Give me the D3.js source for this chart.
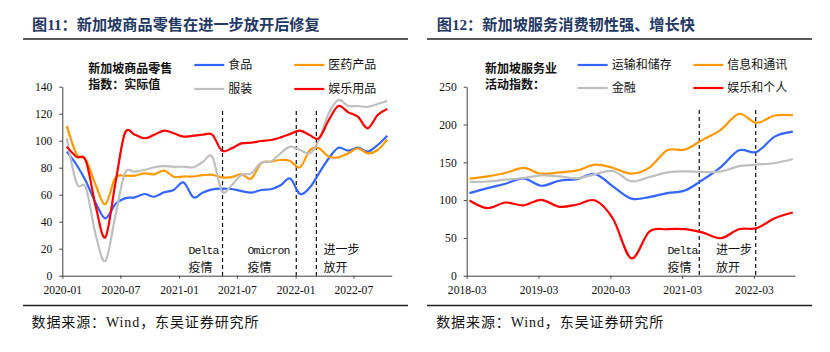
<!DOCTYPE html>
<html><head><meta charset="utf-8">
<script src="https://cdn.jsdelivr.net/npm/d3@7"></script>
<style>body{margin:0;background:#fff} svg{display:block}</style>
</head><body>
<svg id="c" width="830" height="352"></svg>
<script>
// ---------- Left chart data (monthly) ----------
const leftMonths = ["2020-01","2020-02","2020-03","2020-04","2020-05","2020-06","2020-07","2020-08","2020-09","2020-10","2020-11","2020-12",
  "2021-01","2021-02","2021-03","2021-04","2021-05","2021-06","2021-07","2021-08","2021-09","2021-10","2021-11","2021-12",
  "2022-01","2022-02","2022-03","2022-04","2022-05","2022-06","2022-07","2022-08","2022-09","2022-10"];
const leftFood = [91.9,82,70,53.6,42.5,53,57.3,58,60.5,58.5,61.8,63.5,69,58,61.5,64,64.5,64.2,62.7,61.5,63.5,64,67,72,60.5,65.5,75.8,87,94.8,92.6,94.8,91.9,96.8,103.7];
const leftMedical = [111,90,85.7,67,53,72.5,74,74.1,75.8,75.1,77.8,73.3,73.5,73.5,74.5,74.8,72.9,73,75,72,83.3,84.5,85.7,85,80.3,93.1,94.4,88.2,87.7,90.7,94.4,90.7,93.1,101];
const leftApparel = [102,68.4,65,30,11,44,75.8,77,78.3,80.3,81.2,80.7,80.7,80.3,84,88,62.5,67.2,74.6,75.8,83.7,84.5,90.7,95.6,93.1,90.7,100.5,120.3,130.1,125.7,125.7,125,127.2,129.4];
const leftRecreation = [95.6,88,85,51,28.5,68,105.5,104.4,101.8,104.4,107.4,105.5,103,103.7,104.4,104.4,92.6,94.4,98,98.5,99.8,100.5,102.5,105,107.5,104,101.8,115.3,125.7,121,117.8,109.2,119,123.5];
const leftSeriesNames = ["食品","医药产品","服装","娱乐用品"];
const leftXTickLabels = ["2020-01","2020-07","2021-01","2021-07","2022-01","2022-07"];
const leftYTicks = [0,20,40,60,80,100,120,140];
const leftEventDates = ["2021-05-17","2022-01-03","2022-03-07"];
const leftEventLabels = [["Delta","疫情"],["Omicron","疫情"],["进一步","放开"]];

// ---------- Right chart data (quarterly) ----------
const rightQuarters = ["2018-03","2018-06","2018-09","2018-12","2019-03","2019-06","2019-09","2019-12","2020-03","2020-06",
  "2020-09","2020-12","2021-03","2021-06","2021-09","2021-12","2022-03","2022-06","2022-09"];
const rightTransport = [109.3,115.9,121.7,128.8,119,125.6,127.8,134.4,117.9,102,104,109.3,112.8,127,144,165.8,163.7,184,190.6];
const rightInfoComm = [128.3,131.4,135.8,142.5,134.9,136.6,139.3,146.9,142.5,134.9,143,165.9,166.8,180,193.3,214.1,202.2,211.9,212.3];
const rightFinance = [124,124.6,127,129.2,132.7,131.4,128.8,134.4,138.5,125,130.5,136.6,138,137.2,138,144.9,146.9,149.1,154.4];
const rightRecreation = [99.5,89.4,96.8,93,100.4,91.1,94.2,99.5,75,23,58.4,61.5,61.5,57,49.6,61.5,62.9,76,83.6];
const rightSeriesNames = ["运输和储存","信息和通讯","金融","娱乐和个人"];
const rightXTickLabels = ["2018-03","2019-03","2020-03","2021-03","2022-03"];
const rightYTicks = [0,50,100,150,200,250];
const rightEventDates = ["2021-05-27","2022-03-10"];
const rightEventLabels = [["Delta","疫情"],["进一步","放开"]];

const seriesColors = ["#3366ff","#ff9900","#bfbfbf","#ff0000"];

const svg = d3.select("#c");
const parseM = d3.timeParse("%Y-%m");
const parseD = d3.timeParse("%Y-%m-%d");
const mid = s => d3.timeDay.offset(parseM(s), 14);
const FONT_MIX = "'Liberation Serif','Noto Sans CJK SC',serif";
const FONT_CJK = "'Noto Sans CJK SC',sans-serif";

function drawPanel(o) {
  const g = svg.append("g");
  // title
  g.append("text").attr("x", o.titleX).attr("y", 29.5)
    .attr("font-family", FONT_MIX).attr("font-weight", "bold").attr("font-size", 15.2)
    .attr("fill", "#1f3864").text(o.title);
  g.append("line").attr("x1", o.ruleX1).attr("x2", o.ruleX2).attr("y1", 39).attr("y2", 39)
    .attr("stroke", "#222").attr("stroke-width", 1.6);
  g.append("line").attr("x1", o.ruleX1).attr("x2", o.ruleX2).attr("y1", 305.5).attr("y2", 305.5)
    .attr("stroke", "#222").attr("stroke-width", 1.6);
  g.append("text").attr("x", o.titleX - 0.5).attr("y", 326.5)
    .attr("font-family", FONT_MIX).attr("font-size", 14).attr("letter-spacing", 0.9)
    .attr("fill", "#111").text("数据来源：Wind，东吴证券研究所");

  const x = d3.scaleTime().domain(o.xDomain.map(parseD)).range(o.xRange);
  const y = d3.scaleLinear().domain(o.yDomain).range([275.7, 86.7]);

  // axes
  const ya = g.append("g").attr("transform", `translate(${o.xRange[0]},0)`)
    .call(d3.axisLeft(y).tickValues(o.yTicks).tickSize(3).tickSizeOuter(0).tickPadding(7));
  const xa = g.append("g").attr("transform", `translate(0,275.7)`)
    .call(d3.axisBottom(x).tickValues(o.xTickLabels.map(parseM)).tickFormat(d3.timeFormat("%Y-%m"))
      .tickSize(3).tickSizeOuter(0).tickPadding(7));
  [ya, xa].forEach(a => {
    a.selectAll("path,line").attr("stroke", "#404040").attr("stroke-width", 1);
    a.selectAll("text").attr("font-family", "'Liberation Serif',serif").attr("font-size", 11.6).attr("fill", "#111");
  });

  // event dashed lines
  o.eventDates.forEach((d, i) => {
    const ex = x(parseD(d));
    g.append("line").attr("x1", ex).attr("x2", ex).attr("y1", o.eventTop).attr("y2", 275.7)
      .attr("stroke", "#111").attr("stroke-width", 1.2).attr("stroke-dasharray", "4,3");
  });

  // series
  const line = d3.line().x(d => x(d.t)).y(d => y(d.v)).curve(d3.curveCardinal.tension(0));
  o.series.forEach((vals, i) => {
    const pts = vals.map((v, k) => ({t: mid(o.periods[k]), v}));
    g.append("path").attr("d", line(pts)).attr("fill", "none")
      .attr("stroke", seriesColors[i]).attr("stroke-width", 2.2).attr("stroke-linejoin", "round");
  });

  // event labels
  o.eventLabels.forEach((lab, i) => {
    const lx = o.eventLabelX[i];
    const latin = /[A-Za-z]/.test(lab[0]);
    const t1 = g.append("text").attr("x", lx).attr("y", 254).attr("fill", "#111").text(lab[0]);
    if (latin) t1.attr("font-family", "'Liberation Mono',monospace").attr("font-size", 11.5).attr("letter-spacing", -0.9);
    else t1.attr("font-family", FONT_CJK).attr("font-size", 12);
    g.append("text").attr("x", lx).attr("y", 271.5).attr("font-family", FONT_CJK)
      .attr("font-size", 12).attr("fill", "#111").text(lab[1]);
  });

  // legend heading
  o.legendHeading.forEach((t, i) => {
    g.append("text").attr("x", o.legendHeadX).attr("y", 72.5 + i * 16)
      .attr("font-family", FONT_CJK).attr("font-weight", "bold").attr("font-size", 12)
      .attr("fill", "#111").text(t);
  });
  // legend items
  o.names.forEach((n, i) => {
    const col = i % 2, row = Math.floor(i / 2);
    const lx = o.legendX[col], ly = row === 0 ? 65 : o.legendRow2;
    g.append("line").attr("x1", lx).attr("x2", lx + 30).attr("y1", ly).attr("y2", ly)
      .attr("stroke", seriesColors[i]).attr("stroke-width", 2.2);
    g.append("text").attr("x", lx + 34).attr("y", ly + 4.3).attr("font-family", FONT_CJK)
      .attr("font-size", 12).attr("fill", "#111").text(n);
  });
}

drawPanel({
  title: "图11：新加坡商品零售在进一步放开后修复", titleX: 32, ruleX1: 23, ruleX2: 408,
  xDomain: ["2020-01-01","2022-10-29"], xRange: [62.3, 391.7], yDomain: [0,140], yTicks: leftYTicks,
  xTickLabels: leftXTickLabels, periods: leftMonths,
  series: [leftFood, leftMedical, leftApparel, leftRecreation], names: leftSeriesNames,
  eventDates: leftEventDates, eventLabels: leftEventLabels, eventLabelX: [188.5, 247.5, 323.5], eventTop: 111,
  legendHeading: ["新加坡商品零售","指数：实际值"], legendHeadX: 88.3,
  legendX: [194.3, 294.3], legendRow2: 89
});
drawPanel({
  title: "图12：新加坡服务消费韧性强、增长快", titleX: 436.7, ruleX1: 427, ruleX2: 812,
  xDomain: ["2018-03-01","2022-09-26"], xRange: [466.7, 795], yDomain: [0,250], yTicks: rightYTicks,
  xTickLabels: rightXTickLabels, periods: rightQuarters,
  series: [rightTransport, rightInfoComm, rightFinance, rightRecreation], names: rightSeriesNames,
  eventDates: rightEventDates, eventLabels: rightEventLabels, eventLabelX: [667.5, 716], eventTop: 110,
  legendHeading: ["新加坡服务业","活动指数："], legendHeadX: 485,
  legendX: [577.7, 693.3], legendRow2: 88
});
</script>
</body></html>
